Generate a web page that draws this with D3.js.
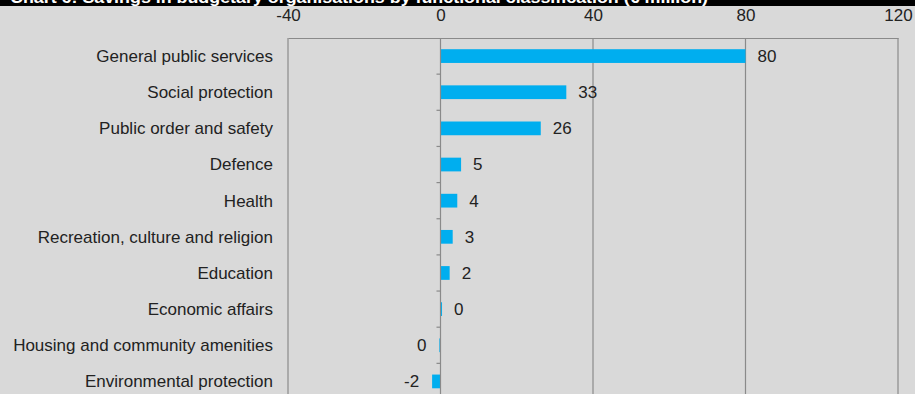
<!DOCTYPE html>
<html>
<head>
<meta charset="utf-8">
<script src="https://cdn.jsdelivr.net/npm/d3@7"></script>
<style>
  html, body { margin: 0; padding: 0; background: #d9d9d9; }
  svg { display: block; }
  text { font-family: "Liberation Sans", Arial, sans-serif; }
</style>
</head>
<body>
<svg id="chart" width="915" height="394"></svg>
<script>
// Savings by functional classification, € million
const categories = [
  "General public services",
  "Social protection",
  "Public order and safety",
  "Defence",
  "Health",
  "Recreation, culture and religion",
  "Education",
  "Economic affairs",
  "Housing and community amenities",
  "Environmental protection"
];
const savings = [80, 33, 26.3, 5.4, 4.4, 3.2, 2.4, 0.4, -0.3, -2.2];
const xTicks = [-40, 0, 40, 80, 120];
const title = "Chart 6: Savings in budgetary organisations by functional classification  (€ million)";

const W = 915, H = 394;
const margin = { top: 38, left: 288, right: 17 };
const svg = d3.select("#chart");

svg.append("rect").attr("width", W).attr("height", H).attr("fill", "#d9d9d9");

const x = d3.scaleLinear().domain([-40, 120]).range([margin.left, W - margin.right]);
const y = d3.scaleBand()
  .domain(categories)
  .range([margin.top, margin.top + 36.15 * categories.length])
  .paddingInner(0.62)
  .paddingOuter(0.31);

// vertical gridlines and frame
svg.append("g").selectAll("line")
  .data(xTicks.filter(t => t !== 0))
  .join("line")
  .attr("x1", d => x(d)).attr("x2", d => x(d))
  .attr("y1", margin.top).attr("y2", H)
  .attr("stroke", "#8a8a8a").attr("stroke-width", 1.2);

// top axis
const xAxis = svg.append("g")
  .attr("transform", `translate(0,${margin.top})`)
  .call(d3.axisTop(x).tickValues(xTicks).tickSize(0).tickPadding(17).tickFormat(d3.format("d")));
xAxis.select(".domain").attr("stroke", "#8a8a8a").attr("stroke-width", 1.2);
xAxis.selectAll("text")
  .attr("font-size", 17).attr("fill", "#222")
  .style("font-family", "'Liberation Sans', Arial, sans-serif")
  .text(d => String(d));

// bars
svg.append("g").selectAll("rect")
  .data(savings)
  .join("rect")
  .attr("x", d => x(Math.min(0, d)))
  .attr("width", d => Math.abs(x(d) - x(0)))
  .attr("y", (d, i) => y(categories[i]))
  .attr("height", y.bandwidth())
  .attr("fill", "#00aeef");

// category axis through zero
const yAxis = svg.append("g")
  .attr("transform", `translate(${x(0)},0)`);
yAxis.append("line")
  .attr("x1", 0).attr("x2", 0)
  .attr("y1", margin.top).attr("y2", H)
  .attr("stroke", "#8a8a8a").attr("stroke-width", 1.2);
const step = y.step();
yAxis.selectAll("line.tick")
  .data(d3.range(1, categories.length + 1))
  .join("line")
  .attr("class", "tick")
  .attr("x1", -4).attr("x2", 0)
  .attr("y1", i => margin.top + i * step).attr("y2", i => margin.top + i * step)
  .attr("stroke", "#8a8a8a").attr("stroke-width", 1.2);

// category labels
svg.append("g").selectAll("text")
  .data(categories)
  .join("text")
  .attr("x", margin.left - 15)
  .attr("y", d => y(d) + y.bandwidth() / 2)
  .attr("dy", "0.35em")
  .attr("text-anchor", "end")
  .attr("font-size", 17)
  .attr("fill", "#222")
  .text(d => d);

// value labels
svg.append("g").selectAll("text")
  .data(savings)
  .join("text")
  .attr("x", d => d >= 0 ? x(d) + 12 : x(d) - 13)
  .attr("y", (d, i) => y(categories[i]) + y.bandwidth() / 2)
  .attr("dy", "0.35em")
  .attr("text-anchor", d => d >= 0 ? "start" : "end")
  .attr("font-size", 17)
  .attr("fill", "#222")
  .text(d => String(Math.round(d) === 0 ? 0 : Math.round(d)));

// title band
svg.append("rect").attr("x", 0).attr("y", 0).attr("width", W).attr("height", 6).attr("fill", "#000");
svg.append("clipPath").attr("id", "titleClip")
  .append("rect").attr("x", 0).attr("y", 0).attr("width", W).attr("height", 6);
svg.append("text")
  .attr("clip-path", "url(#titleClip)")
  .attr("x", 10).attr("y", 3)
  .attr("font-size", 16).attr("font-weight", "bold")
  .attr("fill", "#fff")
  .attr("textLength", 698).attr("lengthAdjust", "spacingAndGlyphs")
  .text(title);
</script>
</body>
</html>
